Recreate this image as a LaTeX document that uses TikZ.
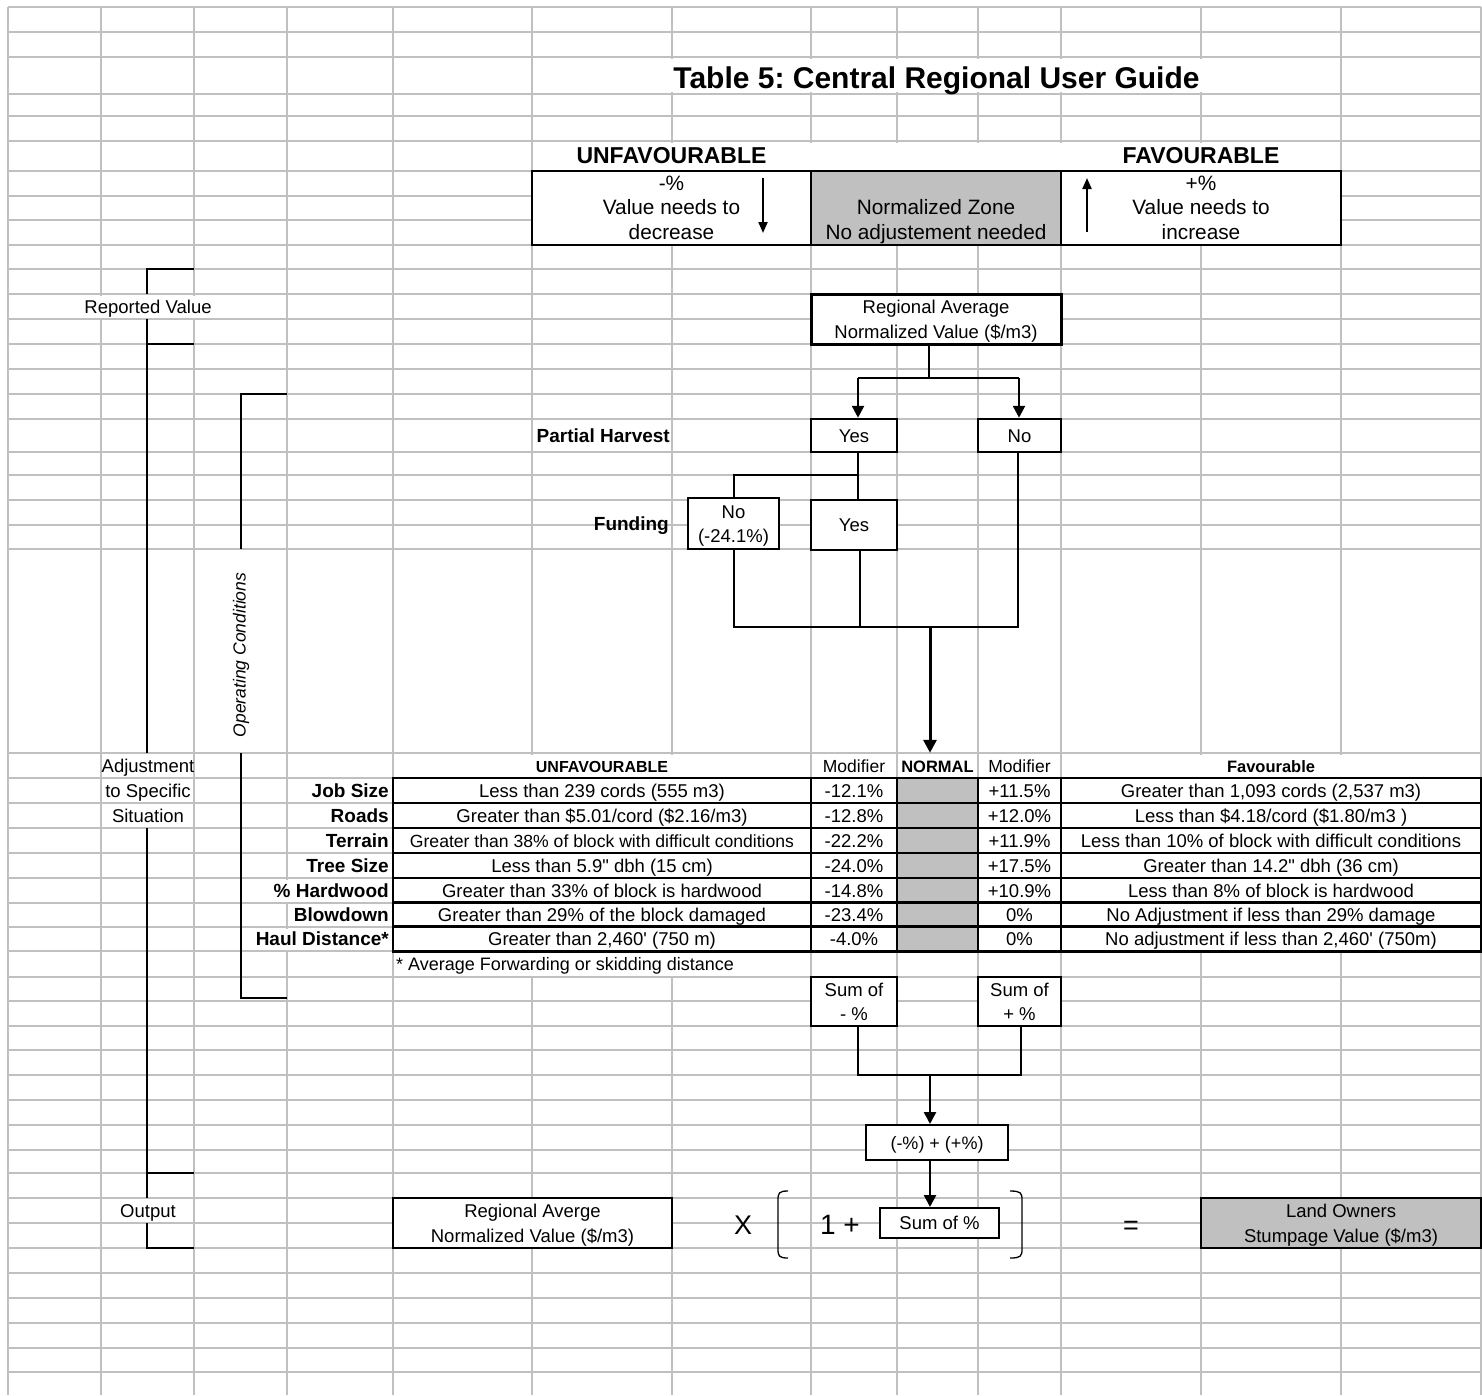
\documentclass[tikz,border=0pt]{standalone}
\usepackage{fontspec}
\setmainfont{Liberation Sans}
\usetikzlibrary{arrows.meta}
\definecolor{gridgray}{HTML}{C0C0C0}
\definecolor{cellgray}{HTML}{C0C0C0}
\newcommand\fsz[1]{\fontsize{#1}{24.5}\selectfont}
\newcommand\st{\rule[-5.4pt]{0pt}{24.5pt}}
\newcommand\sq{\textquotesingle}
\newcommand\dq{\textquotedbl}
\frenchspacing
\tikzset{
 gridl/.style={draw=gridgray, line width=1.8pt},
 txt/.style={inner sep=0pt, align=center, font=\fsz{18.5}},
 lab/.style={inner sep=0pt, font=\fsz{19}\bfseries},
 cbox/.style={draw, line width=2.5pt, fill=white, inner sep=0pt, align=center, font=\fsz{18.5}},
 conn/.style={line width=1.3pt},
 arr/.style={line width=2.5pt, -{Triangle[width=12pt,length=12pt]}},
 bigarr/.style={line width=3pt, -{Triangle[width=13pt,length=13pt]}},
 smarr/.style={line width=2pt, -{Triangle[width=9pt,length=11pt]}},
}
\newcommand\trow[7]{%
 \node[lab, anchor=east] (l#1) at (389,#2) {\st #3};
 \node[cbox, minimum width=418pt, minimum height=25pt] (u#1) at (602,#2) {\st #4};
 \node[cbox, minimum width=86pt, minimum height=25pt] (a#1) at (854,#2) {\st #5};
 \node[cbox, fill=cellgray, minimum width=81pt, minimum height=25pt] (n#1) at (937.5,#2) {};
 \node[cbox, minimum width=83pt, minimum height=25pt] (b#1) at (1019.5,#2) {\st #6};
 \node[cbox, minimum width=420pt, minimum height=25pt] (f#1) at (1271,#2) {\st #7};
}
\begin{document}
\begin{tikzpicture}[x=1pt,y=-1pt]
\useasboundingbox[fill=white] (0,0) rectangle (1482,1395);
% grid
\foreach \x in {8,101,194,287,393,532,672,811,897,978,1061,1201,1341,1481}
  \draw[gridl] (\x,7) -- (\x,1395);
\foreach \y in {7,32,57,94,116,141,171,196,220,245,269,294,319,344,369,394,419,452,475,500,525,549,753,778,803,828,853,878,903,927,951,977,1001,1026,1050,1075,1100,1125,1150,1173,1198,1223,1248,1273,1298,1323,1348,1372}
  \draw[gridl] (8,\y) -- (1481,\y);
% merged / overflow cells
\fill[white] (533,59) rectangle (1340,92);
\fill[white] (533,143) rectangle (1340,170);
\fill[white] (9.5,295.5) rectangle (285.5,318);
\fill[white] (394.5,754.5) rectangle (810,777);
\fill[white] (1062.5,754.5) rectangle (1480,777);
\fill[white] (394.5,952.5) rectangle (810,976);
\fill[white] (250,928.5) rectangle (386,950);
\fill[white] (268,879.5) rectangle (386,902);

% title
\node[inner sep=0pt, font=\fsz{30}\bfseries, anchor=base] (title) at (936.5,88) {Table 5: Central Regional User Guide};

% legend
\node[inner sep=0pt, font=\fsz{23}\bfseries, anchor=base] (unft) at (671.5,163) {UNFAVOURABLE};
\node[inner sep=0pt, font=\fsz{23}\bfseries, anchor=base] (favt) at (1201,163) {FAVOURABLE};
\node[cbox, line width=2.8pt, minimum width=279pt, minimum height=74pt, font=\fsz{20.8}] (unf) at (671.5,208) {\st -\%\\\st Value needs to\\\st decrease};
\node[cbox, line width=2.8pt, fill=cellgray, minimum width=250pt, minimum height=74pt, font=\fsz{20.8}] (nz) at (936,208) {\st\\\st Normalized Zone\\\st No adjustement needed};
\node[cbox, line width=2.8pt, minimum width=280pt, minimum height=74pt, font=\fsz{20.8}] (fav) at (1201,208) {\st +\%\\\st Value needs to\\\st increase};
\coordinate (dA) at (763,178); \coordinate (dB) at (763,233);
\draw[smarr] (dA) -- (dB);
\coordinate (uA) at (1087,232); \coordinate (uB) at (1087,178);
\draw[smarr] (uA) -- (uB);

% left brackets
\node[txt] (rv) at (148,306.5) {\st Reported Value};
\node[txt] (adj1) at (148,765.5) {\st Adjustment};
\node[txt] (adj2) at (148,790.5) {\st to Specific};
\node[txt] (adj3) at (148,815.5) {\st Situation};
\node[txt] (outp) at (148,1210.5) {\st Output};
\node[txt, rotate=90, font=\fsz{17.5}\itshape] (oc) at (241,655) {Operating Conditions};
\draw[conn] (194,269) -- (147,269) -- (147,294);
\draw[conn] (147,319) -- (147,753);
\draw[conn] (147,344) -- (194,344);
\draw[conn] (147,828) -- (147,1198);
\draw[conn] (147,1173) -- (194,1173);
\draw[conn] (147,1223) -- (147,1248) -- (194,1248);
\draw[conn] (287,394) -- (241,394) -- (241,549);
\draw[conn] (241,753) -- (241,998) -- (287,998);

% flow chart
\node[cbox, line width=3pt, minimum width=250pt, minimum height=50pt] (ra) at (936,319) {\st Regional Average\\\st Normalized Value (\$/m3)};
\node[lab, anchor=east] (ph) at (670,435.5) {\st Partial Harvest};
\node[cbox, minimum width=86pt, minimum height=33pt] (yes1) at (854,435.5) {\st Yes};
\node[cbox, minimum width=83pt, minimum height=33pt] (no1) at (1019.5,435.5) {\st No};
\node[lab, anchor=east] (fd) at (669,524) {\st Funding};
\node[cbox, line width=1.5pt, minimum width=91pt, minimum height=51pt] (fno) at (733.5,523.5) {\st No\\\st (-24.1\%)};
\node[cbox, minimum width=86pt, minimum height=50pt] (fyes) at (854,525) {\st Yes};

\coordinate (j0) at (929,378);
\coordinate (jY) at (858,378);
\coordinate (jN) at (1019,378);
\draw[conn] (ra.south -| j0) -- (j0);
\draw[conn] (jY) -- (jN);
\draw[arr] (jY) -- (jY |- yes1.north);
\draw[arr] (jN) -- (jN |- no1.north);
\coordinate (jF) at (858,475);
\coordinate (jFn) at (734,475);
\draw[conn] (yes1.south -| jF) -- (fyes.north -| jF);
\draw[conn] (jF) -- (jFn) -- (jFn |- fno.north);
\coordinate (jB1) at (734,627);
\coordinate (jB2) at (860,627);
\coordinate (jB3) at (1018,627);
\coordinate (jM) at (930,627);
\draw[conn] (fno.south -| jB1) -- (jB1) -- (jB3) -- (no1.south -| jB3);
\draw[conn] (fyes.south -| jB2) -- (jB2);

% table header
\node[txt, font=\fsz{16}\bfseries, minimum height=25pt] (hu) at (602,765.5) {\st UNFAVOURABLE};
\node[txt, font=\fsz{17.5}] (hm1) at (854,765.5) {\st Modifier};
\node[txt, font=\fsz{16.5}\bfseries, minimum height=25pt] (hn) at (937.5,765.5) {\st NORMAL};
\node[txt, font=\fsz{17.5}] (hm2) at (1019.5,765.5) {\st Modifier};
\node[txt, font=\fsz{16.5}\bfseries] (hf) at (1271,765.5) {\st Favourable};
\draw[bigarr] (jM) -- (jM |- hn.north);

% table rows
\trow{1}{790.5}{Job Size}{Less than 239 cords (555 m3)}{-12.1\%}{+11.5\%}{Greater than 1,093 cords (2,537 m3)}
\trow{2}{815.5}{Roads}{Greater than \$5.01/cord (\$2.16/m3)}{-12.8\%}{+12.0\%}{Less than \$4.18/cord (\$1.80/m3 )}
\trow{3}{840.5}{Terrain}{\fsz{17.6}Greater than 38\% of block with difficult conditions}{-22.2\%}{+11.9\%}{Less than 10\% of block with difficult conditions}
\trow{4}{865.5}{Tree Size}{Less than 5.9\dq{} dbh (15 cm)}{-24.0\%}{+17.5\%}{Greater than 14.2\dq{} dbh (36 cm)}
\trow{5}{890.5}{\% Hardwood}{Greater than 33\% of block is hardwood}{-14.8\%}{+10.9\%}{Less than 8\% of block is hardwood}
\trow{6}{915}{Blowdown}{Greater than 29\% of the block damaged}{-23.4\%}{0\%}{No Adjustment if less than 29\% damage}
\trow{7}{939}{Haul Distance*}{Greater than 2,460\sq{} (750 m)}{-4.0\%}{0\%}{No adjustment if less than 2,460\sq{} (750m)}

\node[txt, font=\fsz{18}, anchor=west] (fn) at (396,964) {\st * Average Forwarding or skidding distance};

% sums
\node[cbox, minimum width=86pt, minimum height=49pt] (sm) at (854,1001.5) {\st Sum of\\\st - \%};
\node[cbox, minimum width=83pt, minimum height=49pt] (sp) at (1019.5,1001.5) {\st Sum of\\\st + \%};
\node[cbox, line width=2pt, minimum width=142pt, minimum height=35pt, font=\fsz{18}] (cmb) at (937,1142.5) {\st (-\%) + (+\%)};
\node[cbox, line width=2pt, minimum width=119pt, minimum height=30pt] (sumb) at (939.5,1223) {\st Sum of \%};
\coordinate (jS1) at (858,1075);
\coordinate (jS2) at (1021,1075);
\coordinate (jS) at (930,1075);
\draw[conn] (sm.south -| jS1) -- (jS1) -- (jS2) -- (sp.south -| jS2);
\draw[arr] (jS) -- (jS |- cmb.north);
\draw[arr] (cmb.south -| jS) -- (jS |- sumb.north);

% output formula
\node[cbox, minimum width=279pt, minimum height=50pt] (rab) at (532.5,1223) {\st Regional Averge\\\st Normalized Value (\$/m3)};
\node[inner sep=0pt, font=\fsz{27}, anchor=base] (xx) at (743,1234) {X};
\node[inner sep=0pt, font=\fsz{28}, anchor=base] (one) at (840,1234) {1 +};
\node[inner sep=0pt, font=\fsz{27}, anchor=base] (eq) at (1131,1234) {=};
\node[cbox, fill=cellgray, minimum width=280pt, minimum height=50pt] (lob) at (1341,1223) {\st Land Owners\\\st Stumpage Value (\$/m3)};
\draw[conn] (788,1191) .. controls (779,1191) and (778,1193) .. (778,1200) -- (778,1249) .. controls (778,1256) and (779,1258) .. (788,1258);
\draw[conn] (1010,1191) .. controls (1021,1191) and (1022,1193) .. (1022,1200) -- (1022,1249) .. controls (1022,1256) and (1021,1258) .. (1010,1258);
\end{tikzpicture}
\end{document}
